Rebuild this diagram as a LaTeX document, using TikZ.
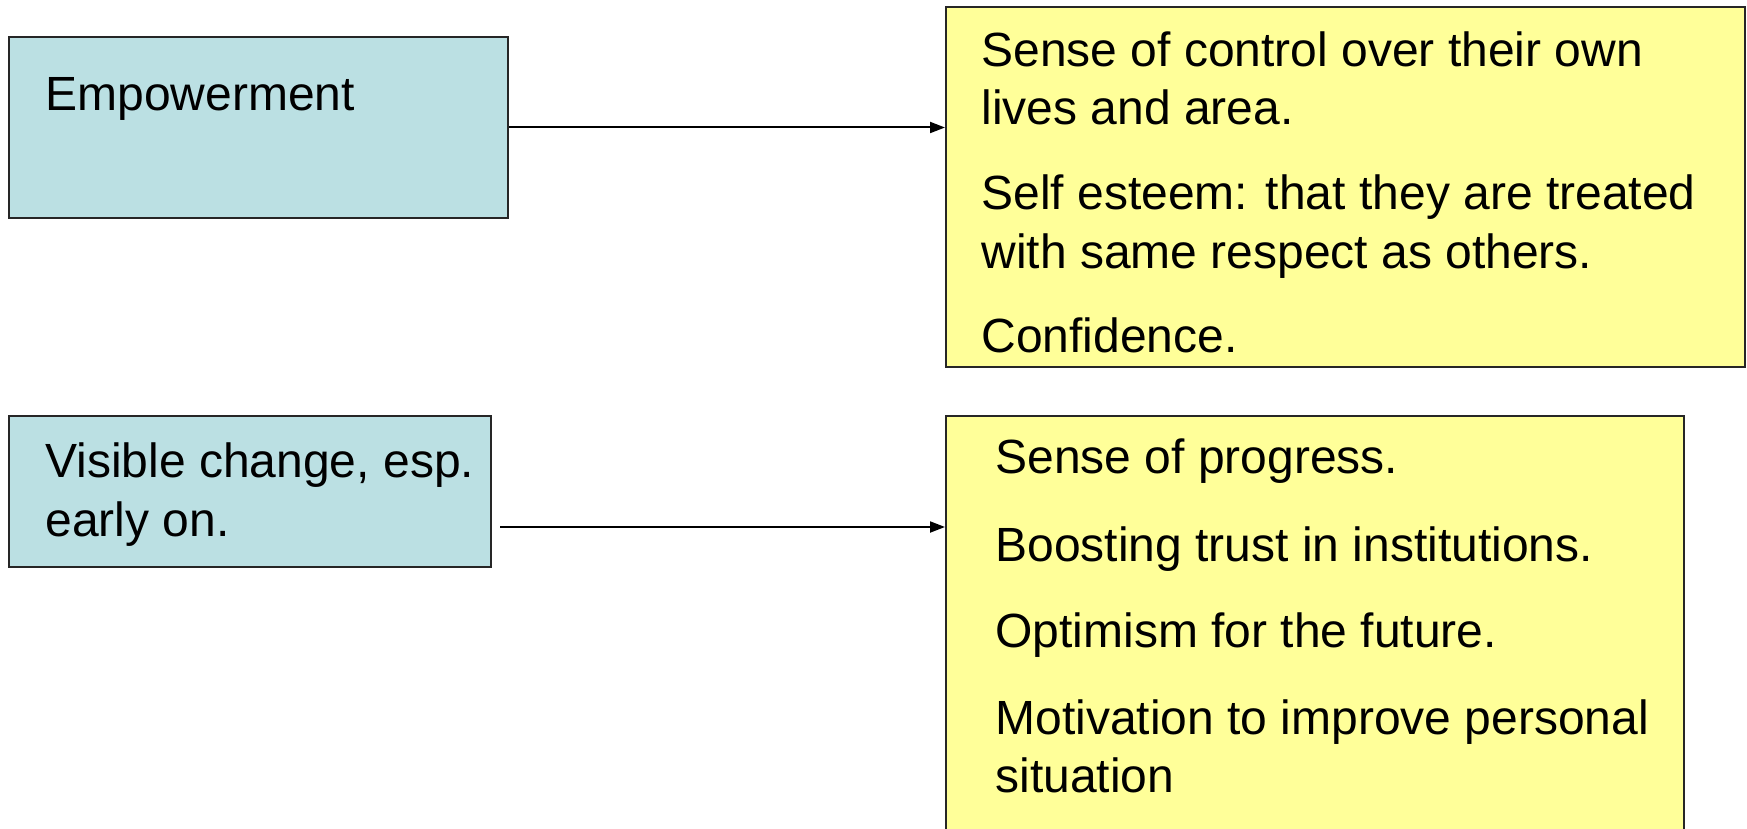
\documentclass[tikz,border=0pt]{standalone}
\usepackage{fontspec}
\setmainfont{Liberation Sans}
\usetikzlibrary{arrows.meta}
\definecolor{cyanbox}{HTML}{BBE0E3}
\definecolor{yellowbox}{HTML}{FFFF99}
\begin{document}
\begin{tikzpicture}[x=0.5pt,y=-0.5pt,
  leftbox/.style={draw=black!85,line width=1pt,fill=cyanbox,rectangle,inner sep=0pt},
  rightbox/.style={draw=black!85,line width=1pt,fill=yellowbox,rectangle,inner sep=0pt},
  txt/.style={anchor=base west,inner sep=0pt,font=\fontsize{24}{29.5}\selectfont},
  conn/.style={draw=black,line width=1pt,-{Triangle[length=7.5pt,width=5.5pt]}}]
\useasboundingbox (0,0) rectangle (1747,829);
\clip (0,0) rectangle (1747,829);
% boxes
\node[leftbox,minimum width=249.5pt,minimum height=90.5pt] (b1) at (258.5,127.5) {};
\node[rightbox,minimum width=399.5pt,minimum height=180pt] (y1) at (1345.5,187) {};
\node[leftbox,minimum width=241pt,minimum height=75.5pt] (b2) at (250,491.5) {};
\node[rightbox,minimum width=369pt,minimum height=212pt] (y2) at (1315,628) {};
% texts
\node[txt] (t1) at (45,111) {Empowerment};
\node[txt] (t2a) at (45,477) {Visible change, esp.};
\node[txt] (t2b) at (45,536) {early on.};
\node[txt] (y1a) at (981,67) {Sense of control over their own};
\node[txt] (y1b) at (981,125) {lives and area.};
\node[txt] (y1c) at (981,209) {Self esteem: that they are treated};
\node[txt] (y1d) at (981,268) {with same respect as others.};
\node[txt] (y1e) at (981,352) {Confidence.};
\node[txt] (y2a) at (995,473) {Sense of progress.};
\node[txt] (y2b) at (995,561) {Boosting trust in institutions.};
\node[txt] (y2c) at (995,647) {Optimism for the future.};
\node[txt] (y2d) at (995,734) {Motivation to improve personal};
\node[txt] (y2e) at (995,792) {situation};
% connectors
\coordinate (s1) at (b1.east);
\draw[conn] (s1) -- (s1 -| y1.west);
\coordinate (s2) at (500,527);
\draw[conn] (s2) -- (s2 -| y2.west);
\end{tikzpicture}
\end{document}
